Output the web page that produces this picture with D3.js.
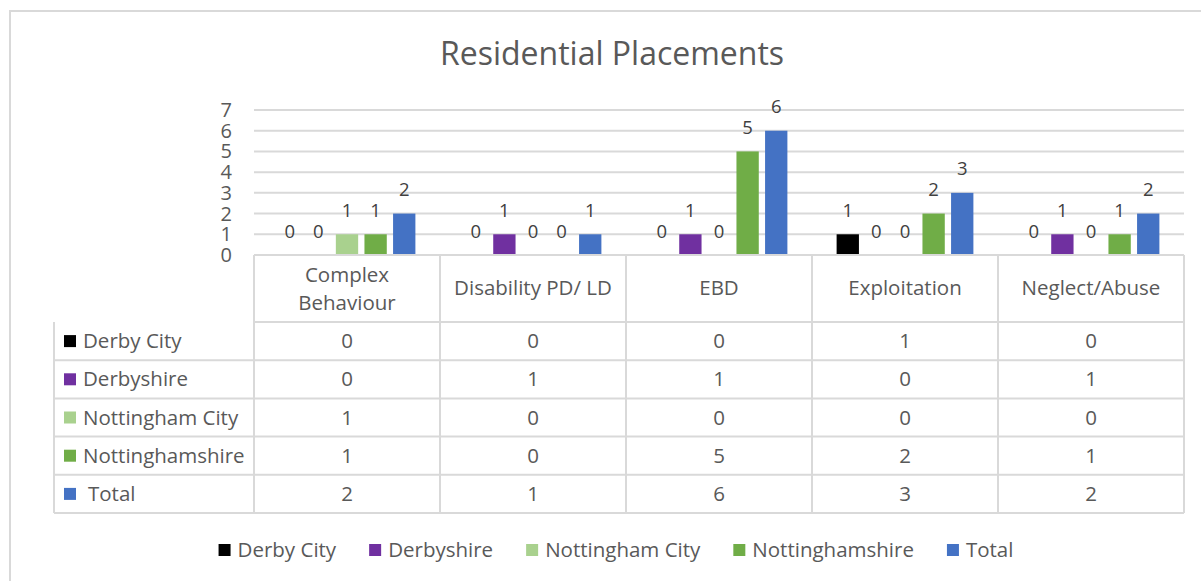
<!DOCTYPE html>
<html>
<head>
<meta charset="utf-8">
<script src="https://cdn.jsdelivr.net/npm/d3@7"></script>
<style>
  body { margin: 0; background: #fff; }
  svg { font-family: "Open Sans", "Noto Sans", sans-serif; }
  text { white-space: pre; }
</style>
</head>
<body>
<script>
// datos
var categorias = ["Complex Behaviour", "Disability PD/ LD", "EBD", "Exploitation", "Neglect/Abuse"]
var series = ["Derby City", "Derbyshire", "Nottingham City", "Nottinghamshire", "Total"]
var derbyCity = [0, 0, 0, 1, 0]
var derbyshire = [0, 1, 1, 0, 1]
var nottinghamCity = [1, 0, 0, 0, 0]
var nottinghamshire = [1, 0, 5, 2, 1]
var total = [2, 1, 6, 3, 2]
var yTicks = [0, 1, 2, 3, 4, 5, 6, 7]
var colores = ["#000000", "#7030a0", "#a9d18e", "#70ad47", "#4472c4"]

var valores = [derbyCity, derbyshire, nottinghamCity, nottinghamshire, total]

var width = 1201, height = 581
var grid = "#d9d9d9", gris = "#595959"
var fs = 20.5   // tamaño de letra de tabla y leyenda

var svg = d3.select("body").append("svg")
    .attr("width", width)
    .attr("height", height)

// borde exterior
svg.append("rect")
    .attr("x", 10).attr("y", 11)
    .attr("width", 1220).attr("height", 600)
    .attr("fill", "none").attr("stroke", grid).attr("stroke-width", 2)

svg.append("text")
    .attr("x", 612).attr("y", 65)
    .attr("text-anchor", "middle")
    .attr("font-size", 32)
    .attr("fill", gris)
    .text("Residential Placements")

var x0 = d3.scaleBand().domain(categorias).range([254, 1184])
var x1 = d3.scaleBand().domain(series).range([0, x0.bandwidth()]).paddingInner(0.22).paddingOuter(0.86)
var y = d3.scaleLinear().domain([0, 7]).range([255, 110])

// lineas de la cuadricula
svg.append("g").selectAll("line")
    .data(yTicks.filter(d => d > 0))
    .enter().append("line")
    .attr("x1", 254).attr("x2", 1184)
    .attr("y1", d => y(d)).attr("y2", d => y(d))
    .attr("stroke", grid).attr("stroke-width", 2)

svg.append("g").selectAll("text")
    .data(yTicks)
    .enter().append("text")
    .attr("x", 232)
    .attr("y", d => y(d) + 7)
    .attr("text-anchor", "end")
    .attr("font-size", 20)
    .attr("fill", gris)
    .text(d => d)

// barras
var datos = []
categorias.forEach((c, i) => {
    series.forEach((s, j) => {
        datos.push({cat: c, serie: s, valor: valores[j][i], color: colores[j]})
    })
})

svg.append("g").selectAll("rect")
    .data(datos.filter(d => d.valor > 0))
    .enter().append("rect")
    .attr("x", d => x0(d.cat) + x1(d.serie))
    .attr("y", d => y(d.valor))
    .attr("width", x1.bandwidth())
    .attr("height", d => y(0) - y(d.valor))
    .attr("fill", d => d.color)

svg.append("g").selectAll("text")
    .data(datos)
    .enter().append("text")
    .attr("x", d => x0(d.cat) + x1(d.serie) + x1.bandwidth() / 2)
    .attr("y", d => y(d.valor) - 17.5)
    .attr("text-anchor", "middle")
    .attr("font-size", 18.5)
    .attr("fill", "#404040")
    .text(d => d.valor)

// tabla de datos
var tabla = svg.append("g")
var filaTop = 322, filaH = 38.2, izq = 54

function linea(xa, ya, xb, yb) {
    tabla.append("line")
        .attr("x1", xa).attr("y1", ya).attr("x2", xb).attr("y2", yb)
        .attr("stroke", grid).attr("stroke-width", 2)
}

var abajo = filaTop + filaH * series.length
linea(254, 255, 254, abajo)
categorias.forEach(c => linea(x0(c) + x0.bandwidth(), 255, x0(c) + x0.bandwidth(), abajo))
linea(izq, filaTop, izq, abajo)
for (var k = 0; k <= series.length; k++) {
    linea(k == 0 ? 254 : izq, filaTop + filaH * k, 1184, filaTop + filaH * k)
}
linea(254, 255, 1184, 255)

// cabeceras
categorias.forEach(c => {
    var partes = c == "Complex Behaviour" ? ["Complex", "Behaviour"] : [c]
    var t = tabla.append("text")
        .attr("x", x0(c) + x0.bandwidth() / 2)
        .attr("y", partes.length == 2 ? 282 : 295)
        .attr("text-anchor", "middle")
        .attr("font-size", fs)
        .attr("fill", gris)
    partes.forEach((p, i) => {
        t.append("tspan")
            .attr("x", x0(c) + x0.bandwidth() / 2)
            .attr("dy", i == 0 ? 0 : 28)
            .text(p)
    })
})

series.forEach((s, j) => {
    var yc = filaTop + filaH * j + filaH / 2
    tabla.append("rect")
        .attr("x", 64).attr("y", yc - 6)
        .attr("width", 12).attr("height", 12)
        .attr("fill", colores[j])
    tabla.append("text")
        .attr("x", s == "Total" ? 88 : 83)
        .attr("y", yc + 7)
        .attr("font-size", fs)
        .attr("fill", gris)
        .text(s)
    categorias.forEach((c, i) => {
        tabla.append("text")
            .attr("x", x0(c) + x0.bandwidth() / 2)
            .attr("y", yc + 7)
            .attr("text-anchor", "middle")
            .attr("font-size", fs)
            .attr("fill", gris)
            .text(valores[j][i])
    })
})

// leyenda inferior
var leyenda = svg.append("g")
var lx = 0
series.forEach((s, j) => {
    var g = leyenda.append("g")
    g.append("rect").attr("x", 0).attr("y", -6).attr("width", 12).attr("height", 12).attr("fill", colores[j])
    var t = g.append("text").attr("x", 19).attr("y", 7).attr("font-size", fs).attr("fill", gris).text(s)
    var w = 19 + t.node().getComputedTextLength()
    g.attr("transform", "translate(" + lx + ",0)")
    lx += w + 33
})
lx -= 33
leyenda.attr("transform", "translate(" + (616 - lx / 2) + ",550)")
</script>
</body>
</html>
